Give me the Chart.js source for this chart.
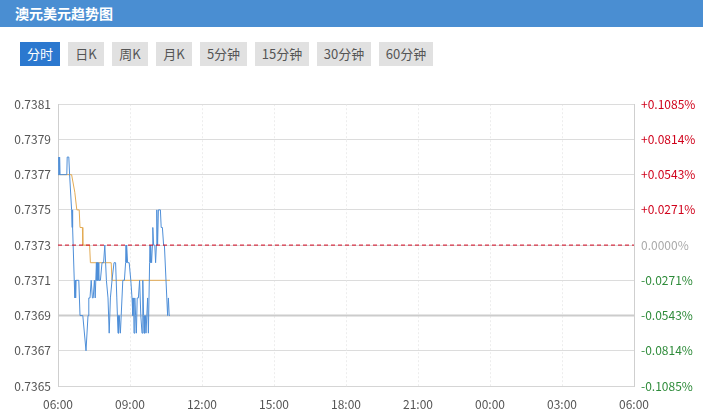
<!DOCTYPE html>
<html>
<head>
<meta charset="utf-8">
<title>澳元美元趋势图</title>
<script src="https://cdn.jsdelivr.net/npm/chart.js@4.4.0/dist/chart.umd.min.js"></script>
<style>
    body { margin: 0; background: #fff; width: 703px; height: 416px; overflow: hidden; position: relative;
           font-family: "Microsoft YaHei", "Noto Sans CJK SC", sans-serif; }
    .title { height: 27px; line-height: 27px; background: #4a8ed2; color: #fff; font-size: 14px;
             font-weight: bold; padding-left: 15px; }
    .tabs { position: absolute; top: 42px; left: 20px; display: flex; }
    .tab { height: 24px; line-height: 24px; margin-right: 8px; font-size: 13px; text-align: center;
           background: #e1e1e1; color: #555; }
    .tab.active { background: #2b78cf; color: #fff; }
    #wrap { position: absolute; left: 0; top: 90px; }
</style>
</head>
<body>
<div class="title">澳元美元趋势图</div>
<div class="tabs">
    <div class="tab active" style="width:40px">分时</div>
    <div class="tab" style="width:36px">日K</div>
    <div class="tab" style="width:36px">周K</div>
    <div class="tab" style="width:36px">月K</div>
    <div class="tab" style="width:47px">5分钟</div>
    <div class="tab" style="width:54px">15分钟</div>
    <div class="tab" style="width:54px">30分钟</div>
    <div class="tab" style="width:54px">60分钟</div>
</div>
<div id="wrap"><canvas id="trendChart" width="703" height="326"></canvas></div>

<script>
// time axis labels, one every 3 hours (x values are minutes after 06:00)
const timeLabels = ['06:00', '09:00', '12:00', '15:00', '18:00', '21:00', '00:00', '03:00', '06:00'];
const priceTicks = [0.7365, 0.7367, 0.7369, 0.7371, 0.7373, 0.7375, 0.7377, 0.7379, 0.7381];
const prevClose = 0.7373;

// minute price
const minutes = [0, 2, 3, 4, 5, 22, 23, 27, 29, 34, 35, 36, 37, 42, 43, 44, 45, 52, 55, 62,
    70, 75, 77, 80, 83, 86, 88, 91, 93, 96, 97, 98, 99, 100, 102, 106, 110, 114, 117, 119,
    121, 125, 128, 131, 135, 140, 144, 147, 150, 151, 152, 153, 156, 158, 162, 166, 169, 170, 171, 172,
    174, 178, 182, 185, 187, 189, 190, 192, 194, 196, 198, 201, 204, 207, 210, 212, 214, 215, 216, 217,
    219, 220, 222, 224, 226, 229, 230, 231, 232, 234, 236, 237, 239, 242, 244, 246, 247, 249, 251, 256,
    258, 261, 264, 266, 272, 274, 276, 278, 280];
const prices = [0.7377, 0.7378, 0.7377, 0.7378, 0.7377, 0.7377, 0.7378, 0.7378, 0.7377, 0.7375, 0.7374, 0.7375, 0.7374, 0.7370, 0.7371, 0.7370, 0.7371, 0.7371, 0.7369, 0.7369,
    0.7367, 0.7369, 0.7370, 0.7370, 0.7371, 0.7370, 0.7370, 0.7371, 0.7370, 0.7372, 0.7371, 0.7372, 0.7371, 0.7372, 0.7371, 0.7371, 0.7372, 0.7372, 0.7373, 0.7372,
    0.7371, 0.7370, 0.7368, 0.7370, 0.7371, 0.7372, 0.7372, 0.7370, 0.7368, 0.7369, 0.7368, 0.7369, 0.7368, 0.7369, 0.7371, 0.7371, 0.7372, 0.7373, 0.7372, 0.7373,
    0.7372, 0.7372, 0.7371, 0.7370, 0.7369, 0.7370, 0.7368, 0.7370, 0.7369, 0.7368, 0.7370, 0.7370, 0.7371, 0.7369, 0.7368, 0.7371, 0.7369, 0.7368, 0.7369, 0.7368,
    0.7369, 0.7368, 0.7368, 0.7370, 0.7368, 0.7372, 0.7373, 0.7372, 0.7373, 0.7372, 0.7373, 0.7374, 0.7373, 0.7373, 0.7372, 0.7373, 0.7375, 0.7373, 0.7375, 0.7375,
    0.7374, 0.7374, 0.7373, 0.7373, 0.7370, 0.7369, 0.7370, 0.7369, 0.7369];

// average price
const avgMinutes = [0, 34, 42, 47, 53, 55, 61, 62, 79, 81, 133, 135, 280];
const avgPrices = [0.7377, 0.7377, 0.7376, 0.7375, 0.7375, 0.7374, 0.7374, 0.7373, 0.7373, 0.7372, 0.7372, 0.7371, 0.7371];

const endMinute = (timeLabels.length - 1) * 180;
const lastPrice = prices[prices.length - 1];

function pct(v) {
    const p = (v - prevClose) / prevClose * 100;
    if (Math.abs(p) < 1e-9) return '0.0000%';
    return (p > 0 ? '+' : '-') + Math.abs(p).toFixed(4) + '%';
}

function createTrendChart() {
    const ctx = document.getElementById('trendChart').getContext('2d');
    const tickFont = { family: '"Microsoft YaHei", "Noto Sans CJK SC", sans-serif', size: 12 };

    new Chart(ctx, {
        type: 'line',
        data: {
            datasets: [{
                data: minutes.map((m, i) => ({ x: m, y: prices[i] })),
                borderColor: '#4f8fd8',
                borderWidth: 1,
                pointRadius: 0,
                order: 1
            }, {
                data: avgMinutes.map((m, i) => ({ x: m, y: avgPrices[i] })),
                borderColor: '#e3ab55',
                borderWidth: 1,
                pointRadius: 0,
                order: 2
            }, {
                data: [{ x: 0, y: prevClose }, { x: endMinute, y: prevClose }],
                borderColor: '#d0021b',
                borderWidth: 1,
                borderDash: [4, 3],
                pointRadius: 0,
                order: 0
            }, {
                data: [{ x: 0, y: lastPrice }, { x: endMinute, y: lastPrice }],
                borderColor: '#cccccc',
                borderWidth: 2,
                pointRadius: 0,
                order: 3
            }]
        },
        options: {
            responsive: false,
            animation: false,
            events: [],
            layout: { padding: { top: 13 } },
            plugins: { legend: { display: false }, tooltip: { enabled: false } },
            scales: {
                x: {
                    type: 'linear',
                    min: 0,
                    max: endMinute,
                    afterBuildTicks: axis => { axis.ticks = timeLabels.map((l, i) => ({ value: i * 180 })); },
                    afterFit: axis => { axis.height = 30; },
                    ticks: {
                        callback: (v, i) => timeLabels[i],
                        color: '#555',
                        font: tickFont,
                        padding: 11,
                        maxRotation: 0,
                        autoSkip: false
                    },
                    grid: {
                        drawTicks: false,
                        color: c => (c.index === 0 || c.index === timeLabels.length - 1) ? 'rgba(0,0,0,0)' : '#ededed'
                    },
                    border: { color: '#d5d5d5', dash: [2, 2] }
                },
                y: {
                    position: 'left',
                    min: priceTicks[0],
                    max: priceTicks[priceTicks.length - 1],
                    afterBuildTicks: axis => { axis.ticks = priceTicks.map(v => ({ value: v })); },
                    afterFit: axis => { axis.width = 58; },
                    ticks: {
                        callback: v => v.toFixed(4),
                        color: '#555',
                        font: tickFont,
                        padding: 7
                    },
                    grid: { drawTicks: false, color: '#dcdcdc' },
                    border: { color: '#cfcfcf' }
                },
                y2: {
                    position: 'right',
                    min: priceTicks[0],
                    max: priceTicks[priceTicks.length - 1],
                    afterBuildTicks: axis => { axis.ticks = priceTicks.map(v => ({ value: v })); },
                    afterFit: axis => { axis.width = 69; },
                    ticks: {
                        callback: v => pct(v),
                        color: c => {
                            const d = c.tick.value - prevClose;
                            if (d > 1e-9) return '#d0021b';
                            if (d < -1e-9) return '#2e8b3a';
                            return '#aaaaaa';
                        },
                        font: tickFont,
                        padding: 7
                    },
                    grid: { drawOnChartArea: false, drawTicks: false },
                    border: { color: '#cfcfcf' }
                }
            }
        }
    });
}

document.addEventListener('DOMContentLoaded', createTrendChart);
</script>
</body>
</html>
